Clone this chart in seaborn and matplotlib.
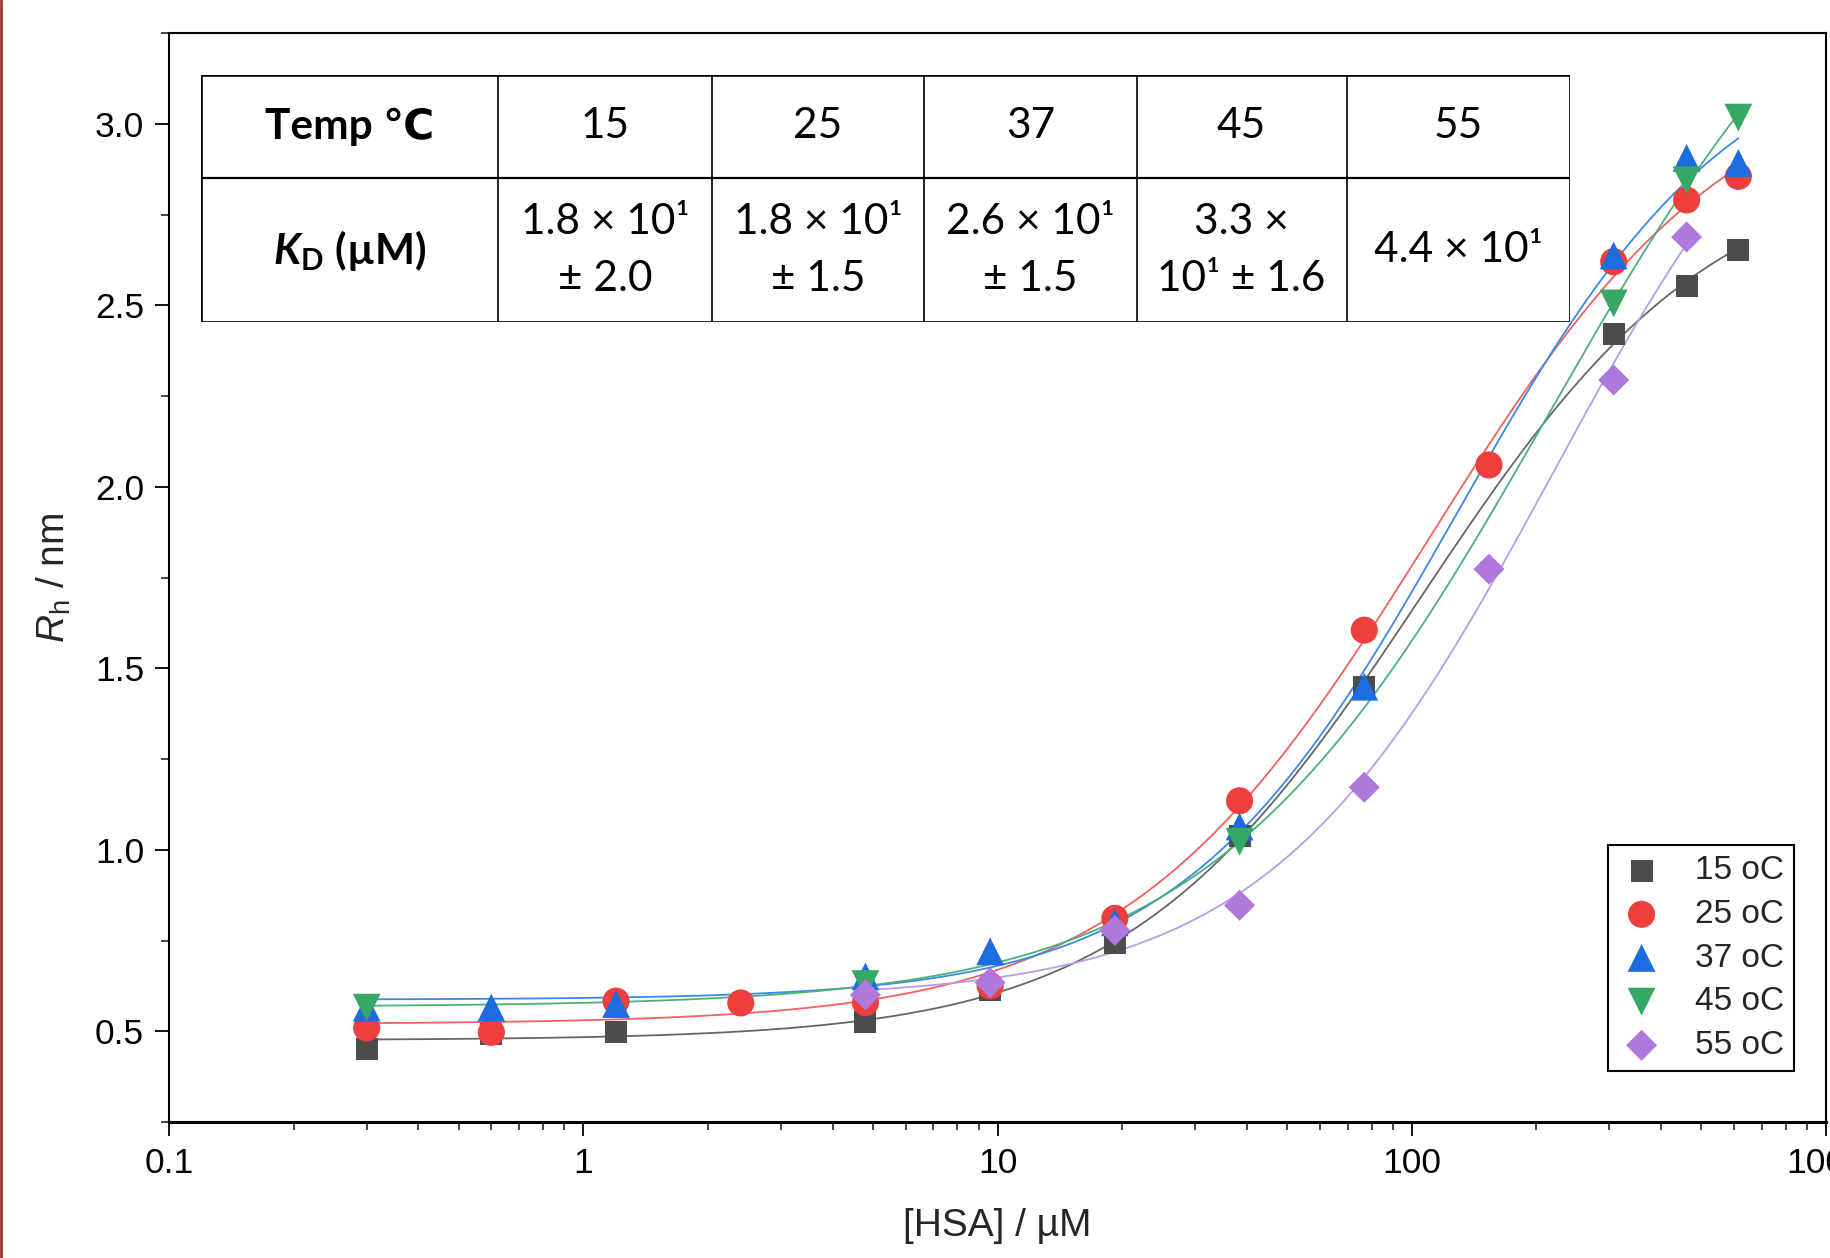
import numpy as np
import pandas as pd
import matplotlib
matplotlib.use("Agg")
import matplotlib.pyplot as plt
import seaborn as sns
from matplotlib.lines import Line2D
from matplotlib.ticker import LogLocator, MultipleLocator, FuncFormatter, NullFormatter

# HSA concentration (uM) and hydrodynamic radius (nm) per temperature
conc = [0.3, 0.6, 1.2, 2.4, 4.8, 9.6, 19.2, 38.4, 76.8, 153.6, 307.2, 460.8, 614.4]
nan = np.nan
rh_15 = [0.45, 0.493, 0.498, nan, 0.525, 0.614, 0.742, 1.037, 1.449, nan, 2.42, 2.553, 2.652]
rh_25 = [0.509, 0.497, 0.583, 0.578, 0.579, 0.625, 0.811, 1.135, 1.605, 2.06, 2.62, 2.79, 2.855]
rh_37 = [0.565, 0.565, 0.575, nan, 0.651, 0.72, 0.80, 1.064, 1.449, nan, 2.637, 2.906, 2.892]
rh_45 = [0.565, nan, nan, nan, 0.63, nan, nan, 1.022, nan, nan, 2.505, 2.844, 3.017]
rh_55 = [nan, nan, nan, nan, 0.60, 0.634, 0.778, 0.847, 1.172, 1.773, 2.294, 2.688, nan]

labels = ["15 oC", "25 oC", "37 oC", "45 oC", "55 oC"]
series = [rh_15, rh_25, rh_37, rh_45, rh_55]
markers = ["s", "o", "^", "v", "D"]
sizes = [250, 380, 400, 400, 250]
point_colors = ["#4d4d4d", "#ee3e3e", "#1c6de0", "#36a866", "#ae78dc"]
line_colors = ["#666666", "#f26060", "#3a88ee", "#4cb07a", "#b99be6"]

# table contents
table_temps = ["15", "25", "37", "45", "55"]
table_kd = ["1.8 × 10¹\n± 2.0", "1.8 × 10¹\n± 1.5", "2.6 × 10¹\n± 1.5",
            "3.3 ×\n10¹ ± 1.6", "4.4 × 10¹"]


def hill_fit(x, y):
    # crude grid search for a Hill binding curve, linear part solved directly
    x = np.asarray(x, float)
    y = np.asarray(y, float)
    ks = np.logspace(1, 3.5, 251)[:, None, None]
    ns = np.linspace(0.6, 3.0, 121)[None, :, None]
    g = x ** ns / (ks ** ns + x ** ns)
    gm = g.mean(-1, keepdims=True)
    ym = y.mean()
    slope = ((g - gm) * (y - ym)).sum(-1, keepdims=True) / ((g - gm) ** 2).sum(-1, keepdims=True)
    icpt = ym - slope * gm
    sse = ((icpt + slope * g - y) ** 2).sum(-1)
    i, j = np.unravel_index(sse.argmin(), sse.shape)
    return icpt[i, j, 0], slope[i, j, 0], ks[i, 0, 0], ns[0, j, 0]


sns.set_theme(style="ticks")
plt.rcParams["font.family"] = ["Liberation Sans", "DejaVu Sans"]
plt.rcParams["mathtext.fontset"] = "custom"
plt.rcParams["mathtext.rm"] = "Liberation Sans"
plt.rcParams["mathtext.it"] = "Liberation Sans:italic"
plt.rcParams["mathtext.bf"] = "Lato:bold"
plt.rcParams["mathtext.bfit"] = "Lato:italic:bold"

fig = plt.figure(figsize=(18.3, 12.58), dpi=100)
ax = fig.add_axes([169 / 1830, 1 - 1122 / 1258, (1826 - 169) / 1830, (1122 - 33) / 1258])

for lab, vals, mk, s, pc, lc in zip(labels, series, markers, sizes, point_colors, line_colors):
    df = pd.DataFrame({"conc": conc, "rh": vals}).dropna()
    b, a, k, n = hill_fit(df["conc"], df["rh"])
    xs = np.logspace(np.log10(df["conc"].min()), np.log10(df["conc"].max()), 300)
    fit = pd.DataFrame({"conc": xs, "rh": b + a * xs ** n / (k ** n + xs ** n)})
    sns.lineplot(data=fit, x="conc", y="rh", color=lc, lw=1.3, ax=ax, zorder=2)

for lab, vals, mk, s, pc in zip(labels, series, markers, sizes, point_colors):
    df = pd.DataFrame({"conc": conc, "rh": vals}).dropna()
    sns.scatterplot(data=df, x="conc", y="rh", marker=mk, s=s, color=pc,
                    edgecolor="none", linewidth=0, label=lab, ax=ax, zorder=3)

ax.set_xscale("log")
ax.set_xlim(0.1, 1000)
ax.set_ylim(0.25, 3.25)
ax.xaxis.set_major_locator(LogLocator(base=10))
ax.xaxis.set_minor_locator(LogLocator(base=10, subs=np.arange(2, 10)))
ax.xaxis.set_major_formatter(FuncFormatter(lambda v, p: f"{v:g}"))
ax.xaxis.set_minor_formatter(NullFormatter())
ax.yaxis.set_major_locator(MultipleLocator(0.5))
ax.yaxis.set_minor_locator(MultipleLocator(0.25))
ax.yaxis.set_major_formatter(FuncFormatter(lambda v, p: f"{v:.1f}"))

ax.tick_params(which="major", direction="out", length=10, width=1.3, labelsize=25.5, pad=8,
               colors="black", top=False, right=False)
ax.tick_params(which="minor", direction="out", length=5.5, width=1.2, top=False, right=False)
for sp in ax.spines.values():
    sp.set_linewidth(1.5)
    sp.set_color("black")
ax.spines["bottom"].set_linewidth(2.2)

ax.set_xlabel("[HSA] / µM", fontsize=28, labelpad=20)
ax.set_ylabel(r"$R_\mathrm{h}$ / nm", fontsize=28, labelpad=16)

leg = ax.legend(loc="lower right", bbox_to_anchor=(0.9807, 0.0468), borderaxespad=0,
                fontsize=24, frameon=True, fancybox=False, edgecolor="black", framealpha=1,
                handlelength=1.4, handletextpad=0.9, borderpad=0.3, labelspacing=0.38)
leg.get_frame().set_linewidth(1.5)

# table drawn in its own axes over the plot
tx0, tx1, ty0, ty1 = 200.7, 1569.6, 74.5, 322.3
tab = fig.add_axes([tx0 / 1830, 1 - ty1 / 1258, (tx1 - tx0) / 1830, (ty1 - ty0) / 1258])
tab.set_xlim(tx0, tx1)
tab.set_ylim(ty1, ty0)
tab.axis("off")
col_edges = [200.7, 498.3, 711.9, 924.3, 1136.6, 1346.6, 1569.6]
row_edges = [74.5, 178.4, 322.3]
tab.add_patch(plt.Rectangle((tx0, ty0), tx1 - tx0, ty1 - ty0, facecolor="white",
                            edgecolor="black", lw=1.9, zorder=1))
tab.vlines(col_edges[1:-1], ty0, ty1, color="black", lw=1.2, zorder=2)
tab.hlines(row_edges[1], tx0, tx1, color="black", lw=1.6, zorder=2)

tfont = dict(family=["Lato", "DejaVu Sans"], fontsize=30.5, ha="center", va="center", color="black")
cx = [(col_edges[i] + col_edges[i + 1]) / 2 for i in range(6)]
r1 = (row_edges[0] + row_edges[1]) / 2
r2 = (row_edges[1] + row_edges[2]) / 2
tab.text(cx[0], r1, "Temp ℃", fontweight="bold", **tfont)
tab.text(cx[0], r2, r"$\mathbfit{K}_\mathbf{D}$ (µM)", fontweight="bold", **tfont)
for i, (t, kd) in enumerate(zip(table_temps, table_kd)):
    tab.text(cx[i + 1], r1, t, **tfont)
    tab.text(cx[i + 1], r2, kd, linespacing=1.6, **tfont)

# thin dark red edge at the left of the screenshot
fig.add_artist(Line2D([0.0008, 0.0008], [0, 1], color="#a03232", lw=2, transform=fig.transFigure))

fig.savefig("out.png", dpi=100)
